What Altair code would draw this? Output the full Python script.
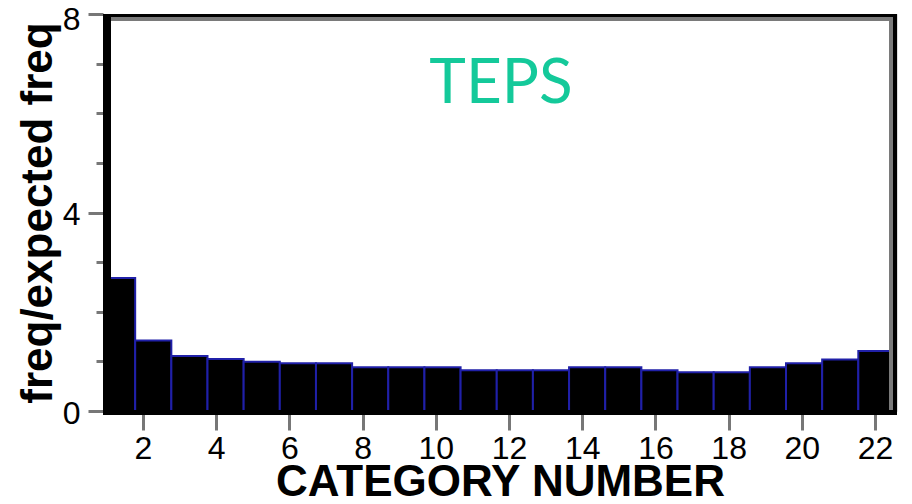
import altair as alt
import pandas as pd

categories = list(range(1, 23))
values = [2.68, 1.42, 1.11, 1.05, 0.99, 0.96, 0.96, 0.88, 0.88, 0.88, 0.82,
          0.82, 0.82, 0.88, 0.88, 0.82, 0.78, 0.78, 0.88, 0.96, 1.04, 1.21]
x_ticks = [2, 4, 6, 8, 10, 12, 14, 16, 18, 20, 22]
y_ticks = [0, 1, 2, 3, 4, 5, 6, 7, 8]

W, H = 794, 397

df = pd.DataFrame({"cat": categories, "val": values})
df["x0"] = df["cat"] - 0.5
df["x1"] = df["cat"] + 0.5
df["base"] = 0.0

bars = alt.Chart(df).mark_bar(
    color="black", stroke="#2020a8", strokeWidth=2, clip=True
).encode(
    x=alt.X("x0:Q", scale=alt.Scale(domain=[0.61, 22.57], nice=False, zero=False), axis=None),
    x2="x1:Q",
    y=alt.Y("val:Q", scale=alt.Scale(domain=[0, 8], nice=False),
            axis=alt.Axis(values=y_ticks, domain=False, grid=False,
                          tickColor="#777777", tickWidth=3,
                          tickSize={"condition": {"test": "datum.value % 4 === 0", "value": 15}, "value": 7},
                          labelExpr="datum.value % 4 === 0 ? datum.label : ''",
                          labelFont="Liberation Sans", labelFontSize=32, labelColor="black",
                          labelPadding=8, labelFlush=False,
                          labelOffset={"condition": {"test": "datum.value === 8", "value": 5},
                                       "value": 2},
                          title="freq/expected freq", titleFont="Liberation Sans",
                          titleFontSize=44, titleFontWeight="bold", titleColor="black",
                          titlePadding=2)),
    y2="base:Q",
)

axis_layer = alt.Chart(df).mark_point(opacity=0).encode(
    x=alt.X("cat:Q", scale=alt.Scale(domain=[0.907, 22.6], nice=False, zero=False),
            axis=alt.Axis(orient="bottom", values=x_ticks, domain=False, grid=False,
                          tickColor="#777777", tickWidth=3, tickSize=19,
                          labelFont="Liberation Sans", labelFontSize=32, labelColor="black",
                          labelPadding=3, labelFlush=False,
                          title="CATEGORY NUMBER", titleFont="Liberation Sans",
                          titleFontSize=44, titleFontWeight="bold", titleColor="black",
                          titlePadding=-4)),
    y=alt.Y("val:Q"),
)

def vrule(xv, y0, y1, color, w):
    return alt.Chart(df.head(1)).mark_rule(color=color, strokeWidth=w).encode(
        x=alt.value(xv), y=alt.value(y0), y2=alt.value(y1))

def hrule(yv, x0, x1, color, w):
    return alt.Chart(df.head(1)).mark_rule(color=color, strokeWidth=w).encode(
        y=alt.value(yv), x=alt.value(x0), x2=alt.value(x1))

frame = [
    hrule(5, 8, 790, "#7a7a7a", 4),
    vrule(788, 3, H, "#7a7a7a", 4),
    hrule(1.5, 0, W, "black", 3),
    vrule(792, 0, H, "black", 4),
    vrule(4, 0, H + 3, "black", 8),
    hrule(H + 1.5, 0, W, "black", 5),
]

label = alt.Chart(df.head(1)).mark_text(
    text="TEPS", font="Lato", fontSize=62, color="#14c99a", align="center", baseline="alphabetic"
).encode(x=alt.value(398), y=alt.value(89))

chart = alt.layer(bars, axis_layer, *frame, label).resolve_scale(x="independent").properties(
    width=W, height=H,
    autosize=alt.AutoSizeParams(type="none"),
    padding={"left": 95, "top": 6, "right": 5, "bottom": 90},
).configure_view(stroke=None).configure(background="white")

chart.save("out.html", embed_options={"renderer": "svg", "actions": False})
